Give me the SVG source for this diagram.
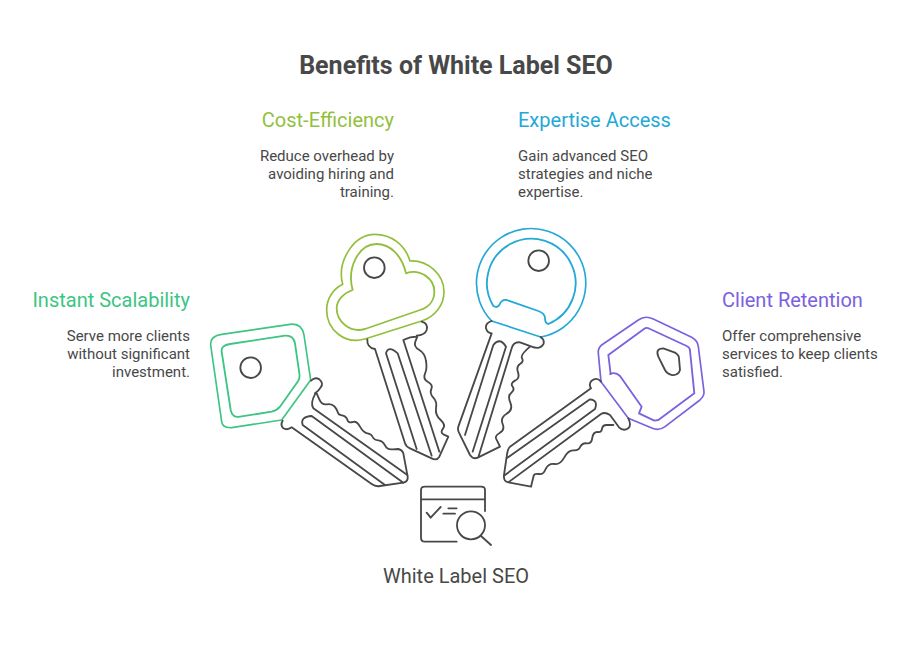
<svg xmlns="http://www.w3.org/2000/svg" width="912" height="661" viewBox="0 0 912 661">
<style>
text{font-family:Roboto,"Liberation Sans",sans-serif;fill:#484848}
.t{font-size:25px;font-weight:700;text-anchor:middle}
.h{font-size:20px}
.b{font-size:15px}
.e{text-anchor:end}
.c{font-size:20px;text-anchor:middle}
.k{fill:none;stroke-width:5.5;stroke-linecap:round;stroke-linejoin:round}
.g{stroke:#484848}
.o{stroke-width:5}
.k1{stroke:#3cc583}.k2{stroke:#93bf3e}.k3{stroke:#24a9d6}.k4{stroke:#7b61e0}
</style>
<rect width="912" height="661" fill="#fff"/>
<text id="title" class="t" x="456" y="74">Benefits of White Label SEO</text>
<g id="connectors"></g>
<g id="key-scalability" class="k" transform="translate(200 310) scale(.33333)">
<path class="k1 o" d="M32 105L65 335Q68 355 95 353L245 330L332 210L312 75Q305 38 270 43L65 73Q30 78 32 105Z"/>
<path class="k1" d="M65 125L92 300Q97 325 120 320L215 305Q230 302 240 290L295 212Q300 205 298 190L285 100Q280 75 255 77L90 102Q62 106 65 125Z"/>
<circle class="g" cx="152" cy="173" r="31"/>
<path class="g" d="M248 332Q240 345 250 355Q262 362 275 352L515 522Q527 531 540 528L610 518Q625 515 623 500L610 430Q607 420 595 417L578 418Q562 420 555 406Q548 392 535 391Q522 390 518 381Q515 372 502 370Q490 368 480 350Q470 332 458 336Q445 340 442 329Q438 318 426 316Q415 315 414 308Q412 300 404 290Q395 280 380 283Q365 285 358 268L350 250L345 250Q358 240 362 232Q372 220 358 208Q345 200 333 212"/>
<path class="g" d="M345 253Q330 280 340 295L622 495M555 525L308 345Q300 320 335 318L610 518"/>
</g>
<g id="key-cost" class="k" transform="translate(320 225) scale(.33333)">
<path class="k2 o" d="M305 288L135 342C75 360 20 315 20 255C20 220 40 192 68 178C50 110 100 28 165 28C215 28 255 60 270 108C325 105 372 150 372 200C372 240 345 275 305 288Z"/>
<path class="k2" d="M98 195C80 130 115 57 170 57C210 57 245 90 258 145C300 130 343 160 343 200C343 228 325 247 300 255L135 312C90 325 50 290 50 250C50 225 70 205 98 195Z"/>
<circle class="g" cx="163" cy="128" r="31"/>
<path class="g" d="M142 343Q140 368 165 372L255 655Q258 665 270 670L335 700Q350 708 358 695L385 635L370 628Q360 622 369 611Q378 600 362 585Q345 570 348 550Q352 530 340 518Q328 505 334 492Q340 480 324 471Q308 462 315 446Q322 430 318 408Q315 385 298 375Q280 365 286 350L292 335Q270 335 250 345L358 680M305 290Q325 295 320 315Q315 330 290 332M290 672L198 385Q205 360 233 385L335 692"/>
</g>
<g id="key-expertise" class="k" transform="translate(450 225) scale(.33333)">
<path class="k3 o" d="M125 288A164 164 0 1 1 272 336Z"/>
<path class="k3" d="M130 243A133 133 0 1 1 295 297Q285 295 285 280Q285 265 265 258L170 225Q155 222 148 240Q142 250 130 243Z"/>
<circle class="g" cx="266" cy="107" r="31"/>
<path class="g" d="M125 288Q105 295 108 310Q112 325 125 325L25 605Q22 615 28 625L60 690Q70 705 85 697L150 665L138 640Q135 632 150 623Q165 615 158 597Q150 578 170 566Q190 555 181 533Q172 512 184 503Q195 495 188 485Q180 475 195 467Q210 460 204 442Q198 425 210 417Q222 410 216 400Q210 390 240 365M272 336Q285 345 280 358Q270 375 245 365L210 352Q190 350 185 370L85 697M45 630L130 360Q150 335 168 365L68 680"/>
</g>
<g id="key-retention" class="k" transform="translate(495 310) scale(.33333)">
<path class="k4 o" d="M318 215L310 130Q308 115 320 105L430 30Q450 15 475 27L590 82Q608 92 610 110L627 245Q628 258 615 270L510 350Q490 365 465 352L400 325Z"/>
<path class="k4" d="M347 192L340 135L450 55Q455 52 465 57L575 108Q585 112 585 122L598 250L490 330L478 332L432 310L440 290L375 198Q362 185 345 192"/>
<path class="g" d="M490 140Q480 115 505 115L540 128Q552 135 552 145L555 180Q550 197 530 195Q515 190 510 180Z"/>
<path class="g" d="M318 215Q305 200 290 212Q280 222 288 235L45 410Q38 415 35 440L27 495Q25 515 40 517L108 530L116 497Q118 490 132 492Q145 495 152 477Q160 460 178 462Q195 465 208 442Q220 420 235 421Q250 423 256 410Q262 398 276 400Q290 402 292 383Q295 365 308 366Q320 368 321 356Q323 345 335 345L355 345M400 325Q410 345 400 355Q385 365 372 352L345 315Q330 305 318 312L40 517M35 445L285 268Q310 270 300 297L27 497"/>
</g>
<g id="center" class="k" transform="translate(410 481) scale(.33333)">
<path class="g" d="M140 182H45Q33 182 33 170V27Q33 17 45 17H213Q225 17 225 27V90M33 55H225M50 95L62 110L92 78M115 82H140M100 98H135M213 165L243 192"/>
<circle class="g" cx="183" cy="133" r="42"/>
</g>
<text class="c" x="456" y="583">White Label SEO</text>
<g id="label-scalability"><text class="h e" x="190" y="307" style="fill:#3cc583">Instant Scalability</text>
<text class="b e" x="190" y="341">Serve more clients</text><text class="b e" x="190" y="359">without significant</text><text class="b e" x="190" y="377">investment.</text></g>
<g id="label-cost"><text class="h e" x="394" y="127" style="fill:#93bf3e">Cost-Efficiency</text>
<text class="b e" x="394" y="161">Reduce overhead by</text><text class="b e" x="394" y="179">avoiding hiring and</text><text class="b e" x="394" y="197">training.</text></g>
<g id="label-expertise"><text class="h" x="518" y="127" style="fill:#24a9d6">Expertise Access</text>
<text class="b" x="518" y="161">Gain advanced SEO</text><text class="b" x="518" y="179">strategies and niche</text><text class="b" x="518" y="197">expertise.</text></g>
<g id="label-retention"><text class="h" x="722" y="307" style="fill:#7b61e0">Client Retention</text>
<text class="b" x="722" y="341">Offer comprehensive</text><text class="b" x="722" y="359">services to keep clients</text><text class="b" x="722" y="377">satisfied.</text></g>
</svg>
